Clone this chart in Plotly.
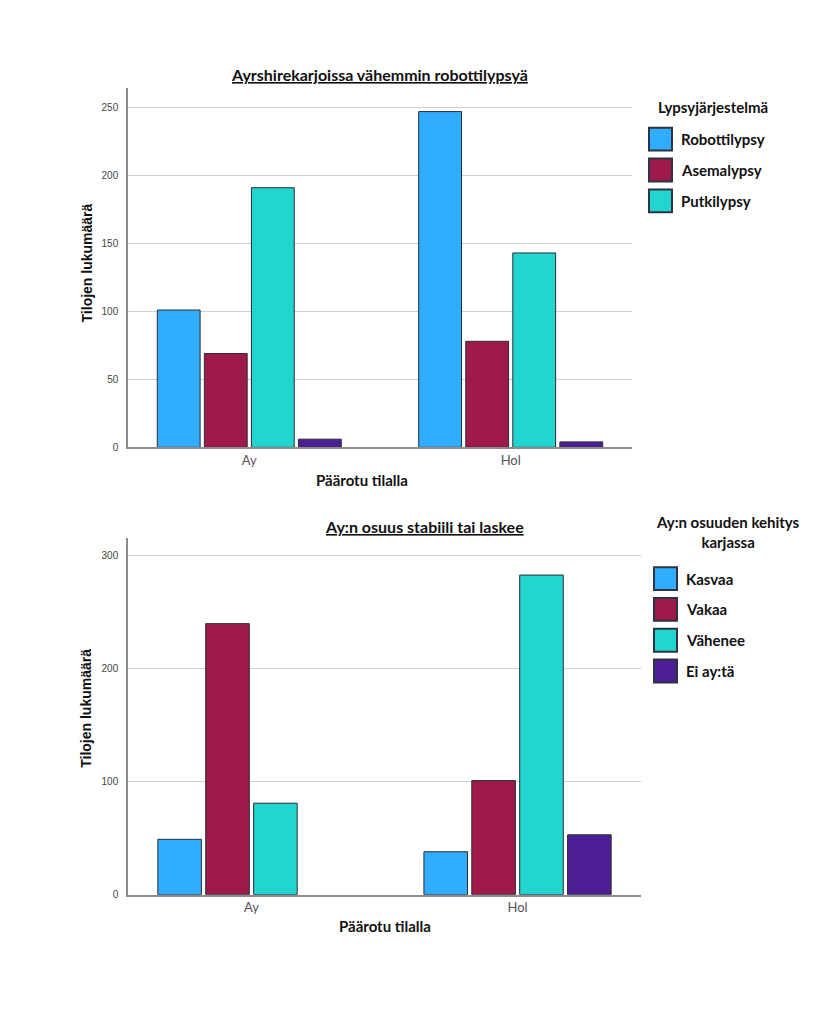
import plotly.graph_objects as go
from plotly.subplots import make_subplots

W, H = 827, 1016

# ---------------- data ----------------
breeds = ["Ay", "Hol"]

# Chart 1: milking systems
milking_names = ["Robottilypsy", "Asemalypsy", "Putkilypsy", "Muu"]
milking_in_legend = [True, True, True, False]
robot = [101, 247]
asema = [69, 78]
putki = [191, 143]
muu = [6, 4]
milking_values = [robot, asema, putki, muu]

# Chart 2: development of Ay share
share_names = ["Kasvaa", "Vakaa", "Vähenee", "Ei ay:tä"]
kasvaa = [49, 38]
vakaa = [240, 101]
vahenee = [81, 283]
ei_ay = [None, 53]
share_values = [kasvaa, vakaa, vahenee, ei_ay]

colors = ["#30adff", "#9e1a4b", "#22d5d1", "#4d1f94"]

title1 = "Ayrshirekarjoissa vähemmin robottilypsyä"
title2 = "Ay:n osuus stabiili tai laskee"
legend1_title = "Lypsyjärjestelmä"
legend2_title = "Ay:n osuuden kehitys<br>karjassa"
ytitle = "Tilojen lukumäärä"
xtitle = "Päärotu tilalla"
yticks1 = [0, 50, 100, 150, 200, 250]
yticks2 = [0, 100, 200, 300]

# ---------------- figure ----------------
fig = make_subplots(rows=2, cols=1)

for name, vals, col in zip(milking_names, milking_values, colors):
    fig.add_trace(go.Bar(x=breeds, y=vals, name=name, marker_color=col,
                         marker_line=dict(color="#2b2b33", width=1),
                         showlegend=False), row=1, col=1)
for name, vals, col in zip(share_names, share_values, colors):
    fig.add_trace(go.Bar(x=breeds, y=vals, name=name, marker_color=col,
                         marker_line=dict(color="#2b2b33", width=1),
                         showlegend=False), row=2, col=1)

def px(x):
    return x / W

def py(y):
    return 1 - y / H

axis_common = dict(showline=True, linecolor="#8c8c8c", linewidth=1.5,
                   ticks="", mirror=False, zeroline=False)

fig.update_layout(
    width=W, height=H, margin=dict(l=0, r=0, t=0, b=0),
    paper_bgcolor="white", plot_bgcolor="white",
    barmode="group", bargap=0.28, bargroupgap=0.09,
    font=dict(family="Liberation Sans, Arial", color="#333333"),
    xaxis=dict(domain=[px(128), px(632)], range=[-0.464, 1.464],
               showgrid=False, tickfont=dict(size=13, color="#555555", family="Lato"),
               **axis_common),
    yaxis=dict(domain=[py(450), py(89)], range=[0, 264], tickvals=yticks1,
               showgrid=True, gridcolor="#cfcfcf", gridwidth=1,
               tickfont=dict(size=10, color="#444444"), ticklabelstandoff=6,
               **axis_common),
    xaxis2=dict(domain=[px(128), px(641)], range=[-0.464, 1.464],
                showgrid=False, tickfont=dict(size=13, color="#555555", family="Lato"),
                **axis_common),
    yaxis2=dict(domain=[py(900), py(541)], range=[0, 316], tickvals=yticks2,
                showgrid=True, gridcolor="#cfcfcf", gridwidth=1,
                tickfont=dict(size=10, color="#444444"), ticklabelstandoff=6,
                **axis_common),
)

annotations = []
shapes = []

def text(x, y, t, size=15, bold=True, family="Lato", color="#111111", angle=0, xanchor="center"):
    s = f"<b>{t}</b>" if bold else t
    annotations.append(dict(x=px(x), y=py(y), xref="paper", yref="paper", text=s,
                            showarrow=False, xanchor=xanchor, yanchor="middle",
                            textangle=angle, font=dict(size=size, family=family, color=color)))

# titles
text(379, 75, f"<u>{title1}</u>", size=16)
text(424, 530, f"<u>{title2}</u>", size=16)
# axis titles
text(87, 265, ytitle, size=14, family="Liberation Sans", angle=-90)
text(86, 713, ytitle, size=14, family="Liberation Sans", angle=-90)
text(362, 483, xtitle, size=15)
text(385, 931, xtitle, size=15)

# legends (drawn as boxes + labels)
def legend(title_x, title_y, box_x, first_y, names, show, title, xanchor="left"):
    annotations.append(dict(x=px(title_x), y=py(title_y), xref="paper", yref="paper",
                            text=f"<b>{title}</b>", showarrow=False, xanchor=xanchor,
                            yanchor="middle", align="center",
                            font=dict(size=15, family="Lato", color="#111111")))
    row = 0
    for name, col, s in zip(names, colors, show):
        if not s:
            continue
        cy = first_y + 31 * row
        shapes.append(dict(type="rect", xref="paper", yref="paper",
                           x0=px(box_x), x1=px(box_x + 23),
                           y0=py(cy - 11.5), y1=py(cy + 11.5),
                           fillcolor=col, line=dict(color="#2b3440", width=2)))
        text(box_x + 30, cy, name, size=15, xanchor="left")
        row += 1

legend(656, 108, 649, 140, milking_names, milking_in_legend, legend1_title)
legend(728, 535, 654, 582, share_names, [True] * 4, legend2_title, xanchor="center")

fig.update_layout(annotations=annotations, shapes=shapes)

fig.write_html("out.html")
